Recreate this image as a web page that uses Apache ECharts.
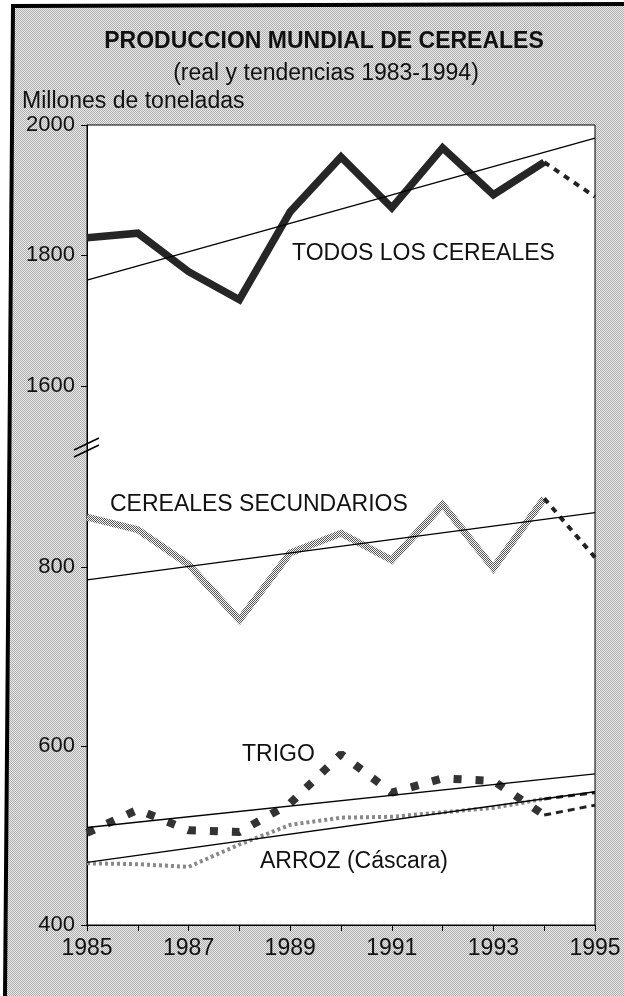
<!DOCTYPE html>
<html>
<head>
<meta charset="utf-8">
<script src="https://cdn.jsdelivr.net/npm/echarts@6/dist/echarts.min.js"></script>
<style>
  html, body { margin: 0; padding: 0; background: #fff; }
  #chart { width: 624px; height: 996px; }
</style>
</head>
<body>
<div id="chart"></div>
<script>
// data (1995 = projection)
const years = [1985, 1986, 1987, 1988, 1989, 1990, 1991, 1992, 1993, 1994, 1995];
const todos = [1827, 1834, 1775, 1732, 1867, 1951, 1873, 1965, 1893, 1943, 1890];
const secundarios = [856, 842, 803, 741, 816, 838, 808, 870, 799, 877, 811];
const trigo = [503, 529, 506, 504, 536, 591, 548, 564, 561, 523, 534];
const arroz = [469, 468, 465, 490, 512, 520, 521, 526, 531, 541, 548];

const trendYears = [1985, 1995];
const todosTrend = [1762, 1980];
const secTrend = [786, 861];
const trigoTrend = [509, 569];
const arrozTrend = [470, 549];

const upperTicks = [1600, 1800, 2000];
const lowerTicks = [400, 600, 800];

const solid = vals => years.slice(0, 10).map((y, i) => [y, vals[i]]);
const proj = vals => [[years[9], vals[9]], [years[10], vals[10]]];
const trend = vals => trendYears.map((y, i) => [y, vals[i]]);

// halftone look of the printed page
function checker(dark, light) {
  const c = document.createElement('canvas');
  c.width = 2; c.height = 2;
  const ctx = c.getContext('2d');
  ctx.fillStyle = light; ctx.fillRect(0, 0, 2, 2);
  ctx.fillStyle = dark; ctx.fillRect(0, 0, 1, 1); ctx.fillRect(1, 1, 1, 1);
  return c;
}
const bgPattern = { image: checker('#ababab', '#ececec'), repeat: 'repeat' };
const stipple = { image: checker('#555555', '#ffffff'), repeat: 'repeat' };

const font = '"Liberation Sans", Arial, Helvetica, sans-serif';
const ink = '#111';

const chart = echarts.init(document.getElementById('chart'));

const yAxisCommon = {
  type: 'value',
  axisLine: { show: true, lineStyle: { color: '#000', width: 1 } },
  axisTick: { show: true, inside: false, length: 6, lineStyle: { color: '#000' } },
  axisLabel: { fontSize: 22, fontFamily: font, color: ink, margin: 12, formatter: v => String(v) },
  splitLine: { show: false }
};

function label(text, x, y, size, weight, align) {
  return {
    type: 'text', x: x, y: y, z: 10,
    style: {
      text: text, fontSize: size, fontFamily: font, fontWeight: weight || 'normal',
      fill: ink, align: align || 'left', verticalAlign: 'middle'
    }
  };
}

const option = {
  backgroundColor: bgPattern,
  animation: false,
  grid: [
    { left: 87, top: 125, width: 508, height: 800, show: true, backgroundColor: '#fff', borderColor: '#000', borderWidth: 1 },
    { left: 87, top: 125, width: 508, height: 326 },
    { left: 87, top: 451, width: 508, height: 474 }
  ],
  xAxis: [
    { gridIndex: 0, type: 'value', min: 0, max: 1, show: false },
    { gridIndex: 1, type: 'value', min: 1985, max: 1995, show: false },
    {
      gridIndex: 2, type: 'value', min: 1985, max: 1995, interval: 1,
      axisLine: { show: true, lineStyle: { color: '#000', width: 1 } },
      axisTick: { show: true, length: 6, lineStyle: { color: '#000' } },
      axisLabel: {
        fontSize: 23, fontFamily: font, color: ink, margin: 12,
        formatter: v => ((v - 1985) % 2 === 0 ? String(v) : '')
      },
      splitLine: { show: false }
    }
  ],
  yAxis: [
    { gridIndex: 0, type: 'value', min: 0, max: 1, show: false },
    Object.assign({}, yAxisCommon, {
      gridIndex: 1, min: 1500, max: 2000,
      axisTick: Object.assign({}, yAxisCommon.axisTick, { customValues: upperTicks }),
      axisLabel: Object.assign({}, yAxisCommon.axisLabel, { customValues: upperTicks })
    }),
    Object.assign({}, yAxisCommon, {
      gridIndex: 2, min: 400, max: 930,
      axisTick: Object.assign({}, yAxisCommon.axisTick, { customValues: lowerTicks }),
      axisLabel: Object.assign({}, yAxisCommon.axisLabel, { customValues: lowerTicks })
    })
  ],
  series: [
    // todos los cereales
    { type: 'line', xAxisIndex: 1, yAxisIndex: 1, data: solid(todos), symbol: 'none',
      lineStyle: { color: '#262626', width: 7.5, join: 'miter' } },
    { type: 'line', xAxisIndex: 1, yAxisIndex: 1, data: proj(todos), symbol: 'none',
      lineStyle: { color: '#222', width: 4, type: [6, 6] } },
    { type: 'line', xAxisIndex: 1, yAxisIndex: 1, data: trend(todosTrend), symbol: 'none', z: 3,
      lineStyle: { color: '#000', width: 1.3 } },
    // cereales secundarios
    { type: 'line', xAxisIndex: 2, yAxisIndex: 2, data: solid(secundarios), symbol: 'none',
      lineStyle: { color: stipple, width: 7, join: 'miter' } },
    { type: 'line', xAxisIndex: 2, yAxisIndex: 2, data: proj(secundarios), symbol: 'none',
      lineStyle: { color: '#222', width: 4, type: [6, 6] } },
    { type: 'line', xAxisIndex: 2, yAxisIndex: 2, data: trend(secTrend), symbol: 'none', z: 3,
      lineStyle: { color: '#000', width: 1.3 } },
    // arroz
    { type: 'line', xAxisIndex: 2, yAxisIndex: 2, data: solid(arroz), symbol: 'none',
      lineStyle: { color: '#888', width: 4, type: [3, 3] } },
    { type: 'line', xAxisIndex: 2, yAxisIndex: 2, data: proj(arroz), symbol: 'none',
      lineStyle: { color: '#222', width: 3, type: [7, 5] } },
    { type: 'line', xAxisIndex: 2, yAxisIndex: 2, data: trend(arrozTrend), symbol: 'none', z: 3,
      lineStyle: { color: '#000', width: 1.3 } },
    // trigo
    { type: 'line', xAxisIndex: 2, yAxisIndex: 2, data: solid(trigo), symbol: 'none',
      lineStyle: { color: '#333', width: 8, type: [8, 14], cap: 'butt' } },
    { type: 'line', xAxisIndex: 2, yAxisIndex: 2, data: proj(trigo), symbol: 'none',
      lineStyle: { color: '#222', width: 3, type: [7, 5] } },
    { type: 'line', xAxisIndex: 2, yAxisIndex: 2, data: trend(trigoTrend), symbol: 'none', z: 3,
      lineStyle: { color: '#000', width: 1.3 } }
  ],
  graphic: [
    { type: 'polygon', z: 9, shape: { points: [[0, 0], [624, 0], [624, 4], [13, 6], [5, 996], [0, 996]] },
      style: { fill: '#fff' } },
    { type: 'polyline', z: 9, shape: { points: [[5, 996], [13, 6], [624, 4]] },
      style: { stroke: '#000', lineWidth: 4, fill: null } },
    // axis break marks
    { type: 'line', z: 9, shape: { x1: 74, y1: 450, x2: 99, y2: 438 }, style: { stroke: '#000', lineWidth: 1.5 } },
    { type: 'line', z: 9, shape: { x1: 74, y1: 457, x2: 99, y2: 445 }, style: { stroke: '#000', lineWidth: 1.5 } },
    label('PRODUCCION MUNDIAL DE CEREALES', 324, 42, 23, 'bold', 'center'),
    label('(real y tendencias 1983-1994)', 326, 74, 23, 'normal', 'center'),
    label('Millones de toneladas', 22, 102, 23),
    label('TODOS LOS CEREALES', 292, 254, 23),
    label('CEREALES SECUNDARIOS', 110, 505, 23),
    label('TRIGO', 242, 755, 23),
    label('ARROZ (Cáscara)', 260, 862, 23)
  ]
};

chart.setOption(option);
</script>
</body>
</html>
